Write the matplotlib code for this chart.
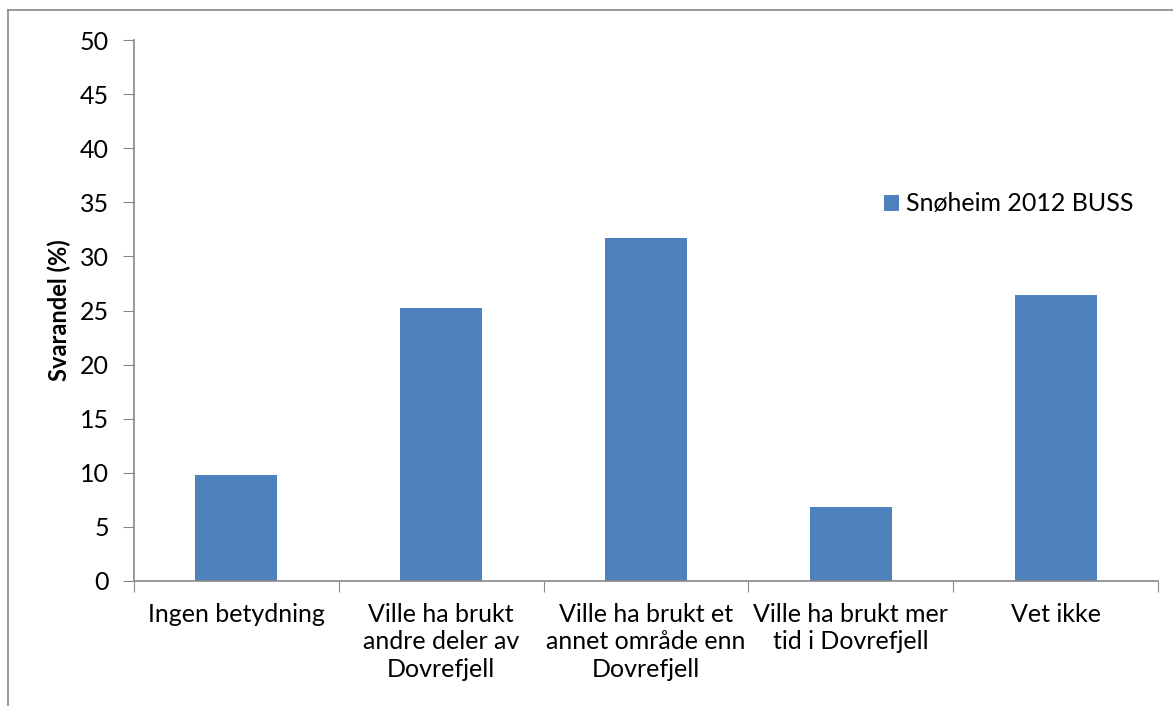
import matplotlib
matplotlib.use("Agg")
import matplotlib.pyplot as plt
from matplotlib.lines import Line2D

categories = ["Ingen betydning", "Ville ha brukt\nandre deler av\nDovrefjell",
              "Ville ha brukt et\nannet område enn\nDovrefjell", "Ville ha brukt mer\ntid i Dovrefjell",
              "Vet ikke"]
values = [9.8, 25.2, 31.7, 6.8, 26.4]
series_name = "Snøheim 2012 BUSS"
yticks = list(range(0, 51, 5))

plt.rcParams['font.family'] = ['Lato', 'DejaVu Sans']
FS = 18
W, H = 1173, 706
fig = plt.figure(figsize=(W/100, H/100), dpi=100)
ax = fig.add_axes([134/W, 1-581/H, (1158-134)/W, (581-40)/H])

x = list(range(len(categories)))
ax.bar(x, values, width=0.4, color='#4F81BD', label=series_name, zorder=2)
ax.set_xlim(-0.5, len(categories)-0.5)
ax.set_ylim(0, 50)
ax.set_yticks(yticks)
ax.set_yticklabels([str(t) for t in yticks], fontsize=FS)
ax.set_xticks([i - 0.5 for i in range(len(categories)+1)], minor=False)
ax.set_xticklabels([])
ax.set_xticks(x, minor=True)
ax.set_xticklabels(categories, minor=True, fontsize=FS, linespacing=1.22)
ax.tick_params(axis='x', which='minor', length=0, pad=16)
ax.tick_params(axis='x', which='major', length=8, color='#888888', direction='out')
ax.tick_params(axis='y', length=8, color='#888888', direction='out', pad=10)
for s in ['top', 'right']:
    ax.spines[s].set_visible(False)
for s in ['left', 'bottom']:
    ax.spines[s].set_color('#888888')
    ax.spines[s].set_linewidth(1.2)
ax.set_ylabel("Svarandel (%)", fontsize=FS-1, fontweight='bold', labelpad=6)

ax.legend(loc='center left', bbox_to_anchor=(884/W, 1-204/H), bbox_transform=fig.transFigure,
          frameon=False, fontsize=FS, handlelength=0.6, handleheight=0.6, handletextpad=0.3,
          borderaxespad=0, borderpad=0)

fig.add_artist(Line2D([8/W, 8/W], [0, 1-10/H], color='#888888', lw=1.2, transform=fig.transFigure))
fig.add_artist(Line2D([8/W, 1], [1-10/H, 1-10/H], color='#888888', lw=1.2, transform=fig.transFigure))

fig.savefig("out.png", dpi=100)
